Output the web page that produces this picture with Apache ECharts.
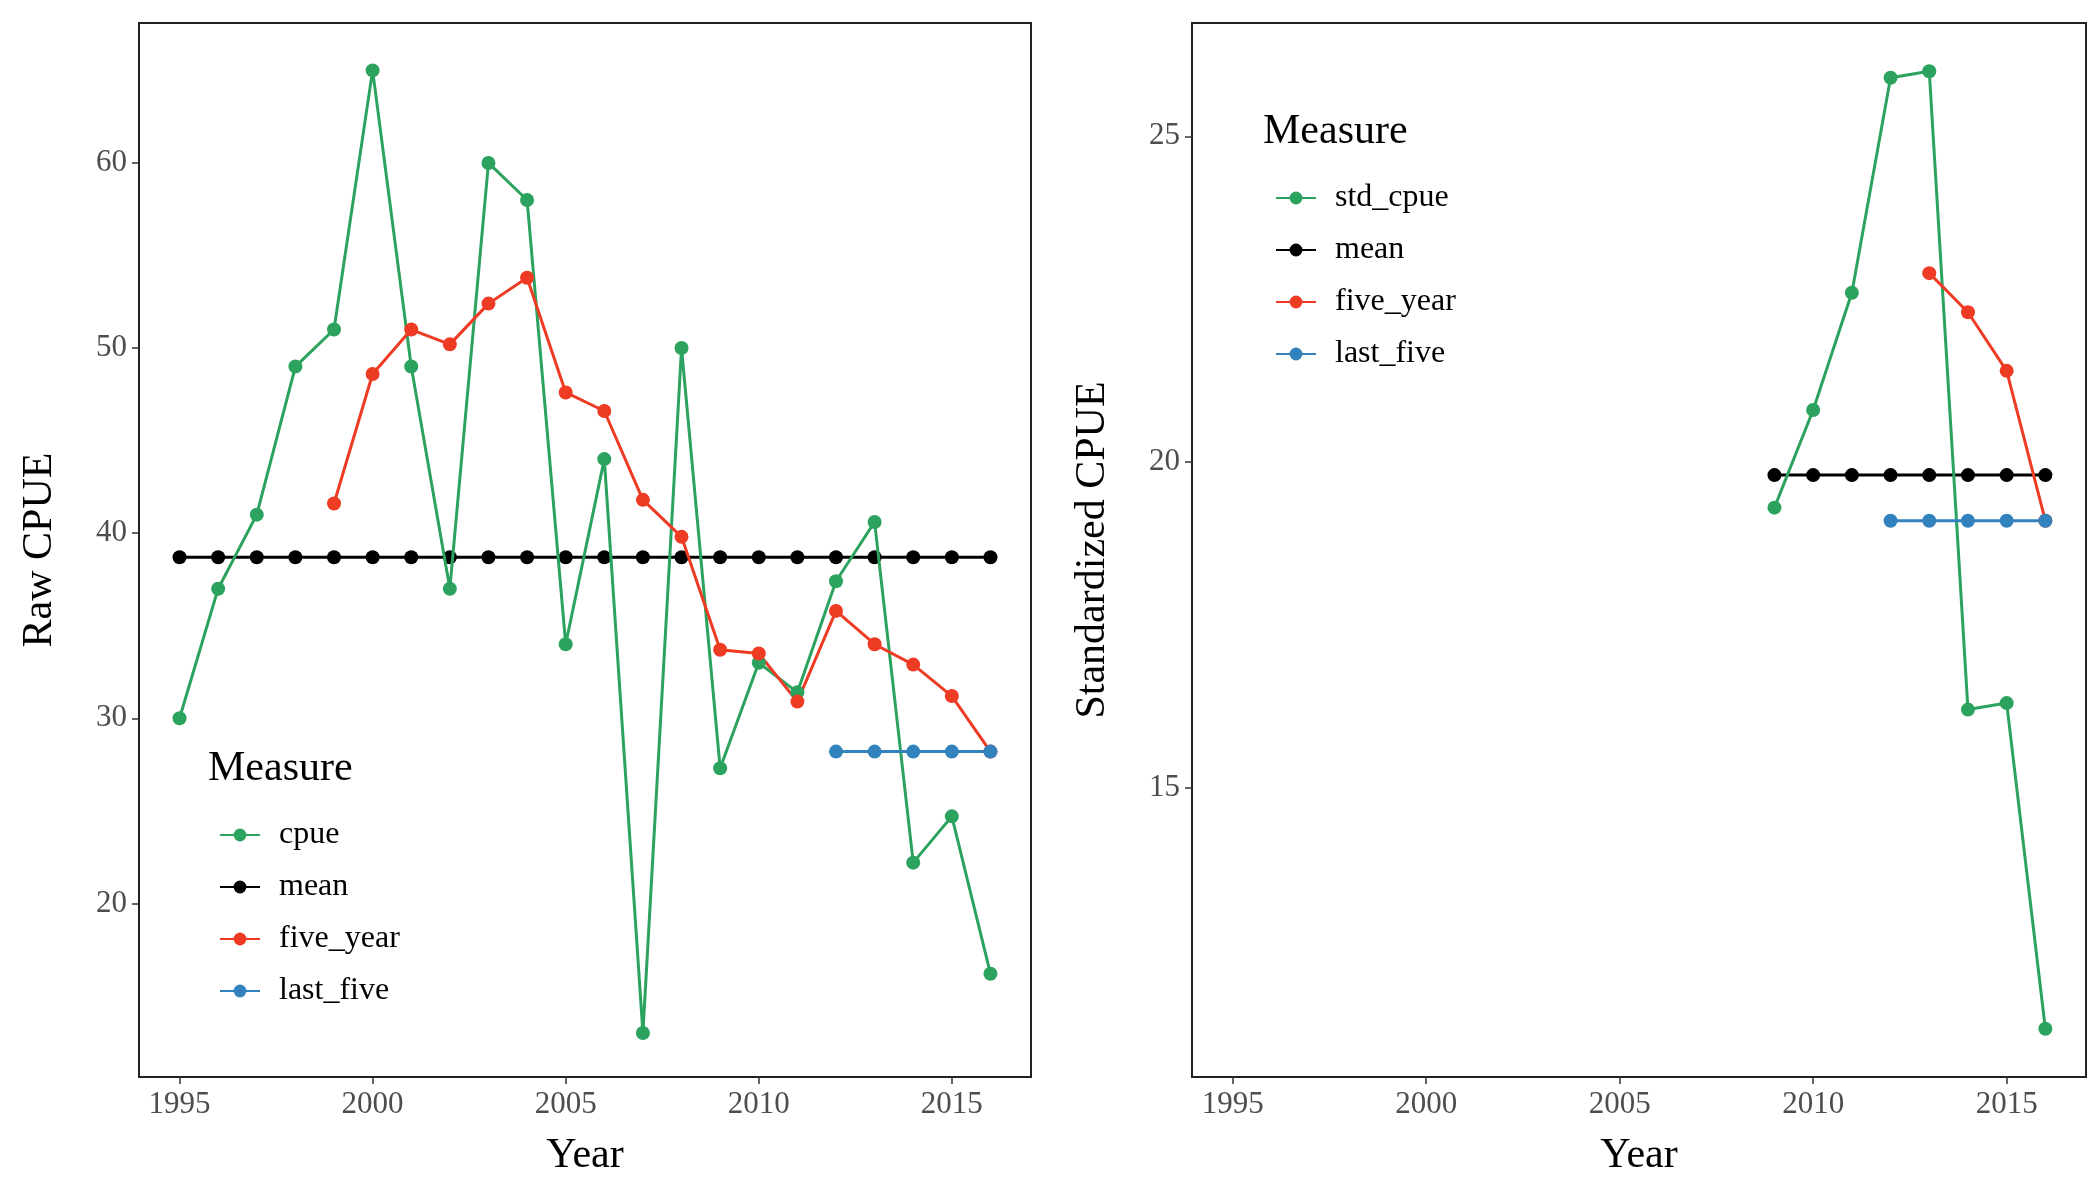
<!DOCTYPE html>
<html><head><meta charset="utf-8">
<script src="https://cdn.jsdelivr.net/npm/echarts@6/dist/echarts.min.js"></script>
<style>html,body{margin:0;padding:0;background:#fff}#c{width:2100px;height:1200px}</style>
</head><body><div id="c"></div>
<script>
// raw panel
const rawYears = [1995,1996,1997,1998,1999,2000,2001,2002,2003,2004,2005,2006,2007,2008,2009,2010,2011,2012,2013,2014,2015,2016]
const rawCpue = [30,37,41,49,51,65,49,37,60,58,34,44,13.0,50,27.3,33,31.4,37.4,40.6,22.2,24.7,16.2]
const rawMean = 38.7
const fiveYears = [1999,2000,2001,2002,2003,2004,2005,2006,2007,2008,2009,2010,2011,2012,2013,2014,2015,2016]
const rawFive = [41.6,48.6,51.0,50.2,52.4,53.8,47.6,46.6,41.8,39.8,33.7,33.5,30.9,35.8,34.0,32.9,31.2,28.2]
const lastYears = [2012,2013,2014,2015,2016]
const rawLast = 28.2
// standardized panel
const stdYears = [2009,2010,2011,2012,2013,2014,2015,2016]
const stdCpue = [19.3,20.8,22.6,25.9,26.0,16.2,16.3,11.3]
const stdMean = 19.8
const stdFiveYears = [2013,2014,2015,2016]
const stdFive = [22.9,22.3,21.4,19.1]
const stdLast = 19.1
const xTicks = [1995,2000,2005,2010,2015]
const rawTicks = [20,30,40,50,60]
const stdTicks = [15,20,25]

const GREEN = '#2ca25f', RED = '#ee3b24', BLUE = '#3182bd', BLACK = '#000'
const FONT = 'Liberation Serif'
const pairs = (xs, ys) => xs.map((x, i) => [x, Array.isArray(ys) ? ys[i] : ys])

function line(name, idx, data, color) {
  return {
    name, type: 'line', xAxisIndex: idx, yAxisIndex: idx, data,
    symbol: 'circle', symbolSize: 14, color,
    lineStyle: { width: 3, color }, itemStyle: { color }, z: name === 'mean' ? 2 : 3
  }
}
function xAxis(idx) {
  return {
    type: 'value', gridIndex: idx, min: 1993.95, max: 2017.05,
    name: 'Year', nameLocation: 'middle', nameGap: 58,
    nameTextStyle: { fontFamily: FONT, fontSize: 42, color: '#000' },
    splitLine: { show: false },
    axisLine: { show: false },
    axisTick: { customValues: xTicks, length: 7, lineStyle: { color: '#333', width: 1.5 } },
    axisLabel: { customValues: xTicks, formatter: v => String(v), fontFamily: FONT, fontSize: 31, color: '#4d4d4d', margin: 12 }
  }
}
function yAxis(idx, min, max, ticks, name) {
  return {
    type: 'value', gridIndex: idx, min, max, name, nameLocation: 'middle', nameGap: 78,
    nameTextStyle: { fontFamily: FONT, fontSize: 42, color: '#000' },
    splitLine: { show: false },
    axisLine: { show: false },
    axisTick: { customValues: ticks, length: 7, lineStyle: { color: '#333', width: 1.5 } },
    axisLabel: { customValues: ticks, formatter: v => String(v), fontFamily: FONT, fontSize: 31, color: '#4d4d4d', margin: 12 }
  }
}
function legend(names, left, top) {
  return {
    data: names, orient: 'vertical', left, top, itemGap: 20, itemWidth: 40, itemHeight: 16,
    selectedMode: false,
    textStyle: { fontFamily: FONT, fontSize: 32, color: '#000', padding: [0, 0, 0, 14] }
  }
}

const chart = echarts.init(document.getElementById('c'))
chart.setOption({
  backgroundColor: '#fff',
  animation: false,
  grid: [
    { left: 139, top: 23, width: 892, height: 1054, show: true, borderColor: '#222', borderWidth: 2, backgroundColor: 'transparent' },
    { left: 1192, top: 23, width: 894, height: 1054, show: true, borderColor: '#222', borderWidth: 2, backgroundColor: 'transparent' }
  ],
  xAxis: [xAxis(0), xAxis(1)],
  yAxis: [yAxis(0, 10.62, 67.56, rawTicks, 'Raw CPUE'), yAxis(1, 10.56, 26.74, stdTicks, 'Standardized CPUE')],
  legend: [
    legend(['cpue', 'mean', 'five_year', 'last_five'], 214, 814),
    legend(['std_cpue', 'mean', 'five_year', 'last_five'], 1270, 177)
  ],
  graphic: [
    { type: 'text', left: 208, top: 748, style: { text: 'Measure', fontFamily: FONT, fontSize: 42, fill: '#000' } },
    { type: 'text', left: 1263, top: 111, style: { text: 'Measure', fontFamily: FONT, fontSize: 42, fill: '#000' } }
  ],
  series: [
    line('mean', 0, pairs(rawYears, rawMean), BLACK),
    line('cpue', 0, pairs(rawYears, rawCpue), GREEN),
    line('five_year', 0, pairs(fiveYears, rawFive), RED),
    line('last_five', 0, pairs(lastYears, rawLast), BLUE),
    line('mean', 1, pairs(stdYears, stdMean), BLACK),
    line('std_cpue', 1, pairs(stdYears, stdCpue), GREEN),
    line('five_year', 1, pairs(stdFiveYears, stdFive), RED),
    line('last_five', 1, pairs(lastYears, stdLast), BLUE)
  ]
})
</script></body></html>
